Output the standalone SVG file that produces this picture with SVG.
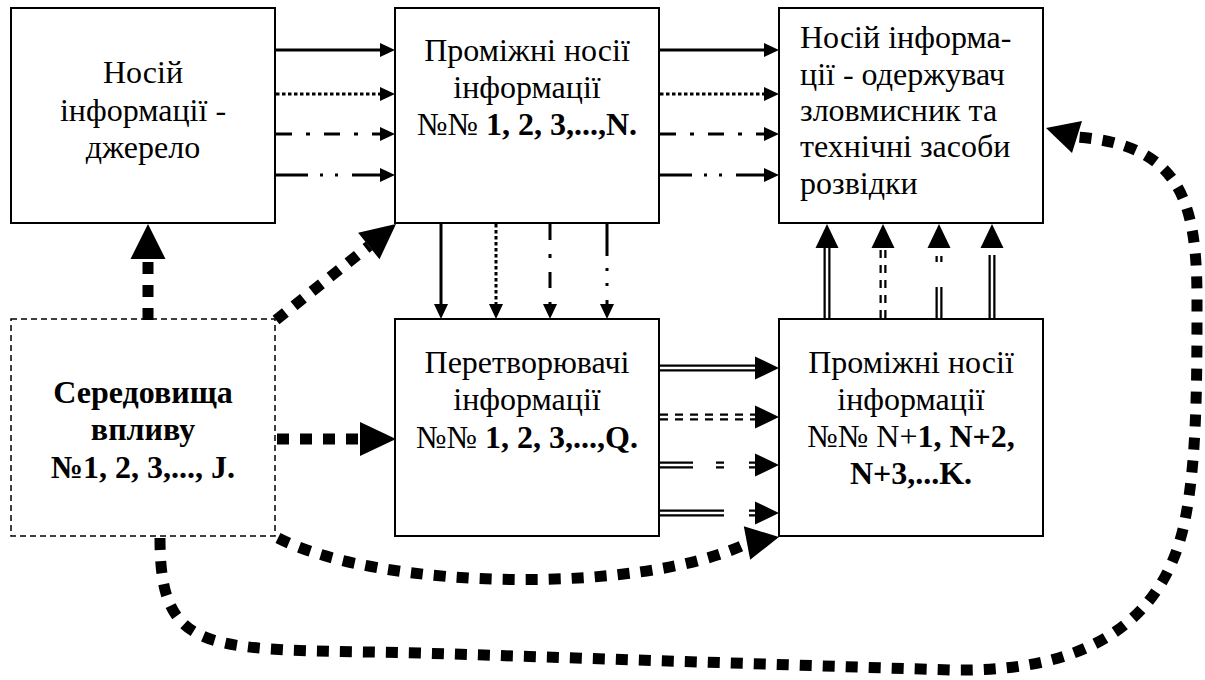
<svg xmlns="http://www.w3.org/2000/svg" width="1205" height="680" viewBox="0 0 1205 680">
<defs>
<style>
.box{fill:#fff;stroke:#000;stroke-width:2}
.dbox{fill:#fff;stroke:#000;stroke-width:1.5;stroke-dasharray:6 4}
.t{font-size:32px;fill:#000}
.c{text-anchor:middle}
.b{font-weight:bold}
.ln{fill:none;stroke:#000;stroke-width:3}
.dot{stroke-dasharray:3.5 2.5}
.dd{stroke-dasharray:16 14 4 14}
.ddd{stroke-dasharray:32 12 3 12 3 14}
.dbl{fill:none;stroke:#000;stroke-width:7}
.dblw{fill:none;stroke:#fff;stroke-width:2.5}
.thick{fill:none;stroke:#000;stroke-width:11;stroke-dasharray:12 11}
.head{fill:#000;stroke:none}
</style>
<marker id="a" markerUnits="userSpaceOnUse" markerWidth="15" markerHeight="14" refX="0" refY="7" orient="auto" viewBox="0 0 15 14" overflow="visible"><path d="M0,0 L15,7 L0,14z" fill="#000"/></marker>
<marker id="a2" markerUnits="userSpaceOnUse" markerWidth="24" markerHeight="23" refX="0" refY="11.5" orient="auto" viewBox="0 0 24 23" overflow="visible"><path d="M0,0 L24,11.5 L0,23z" fill="#000"/></marker>
</defs>

<g font-family="Liberation Serif, Times New Roman, serif" class="t">
<g id="node-source">
<rect class="box" x="11" y="8" width="264" height="215"/>
<text class="c" x="143" y="83">Носій</text>
<text class="c" x="143" y="121">інформації -</text>
<text class="c" x="143" y="158">джерело</text>
</g>

<g id="node-intermediate">
<rect class="box" x="395" y="8" width="264" height="215"/>
<text class="c" x="527" y="61">Проміжні носії</text>
<text class="c" x="527" y="98">інформації</text>
<text class="c" x="527" y="135">№№<tspan class="b"> 1, 2, 3,...,N.</tspan></text>
</g>

<g id="node-receiver">
<rect class="box" x="779" y="8" width="264" height="215"/>
<text x="800" y="48">Носій інформа-</text>
<text x="800" y="85">ції - одержувач</text>
<text x="800" y="121">зловмисник та</text>
<text x="800" y="157">технічні засоби</text>
<text x="800" y="194">розвідки</text>
</g>

<g id="node-environment">
<rect class="dbox" x="11" y="319" width="264" height="217"/>
<text class="c b" x="143" y="403">Середовища</text>
<text class="c b" x="143" y="440">впливу</text>
<text class="c b" x="143" y="478">№1, 2, 3,..., J.</text>
</g>

<g id="node-converters">
<rect class="box" x="395" y="319" width="264" height="217"/>
<text class="c" x="527" y="373">Перетворювачі</text>
<text class="c" x="527" y="410">інформації</text>
<text class="c" x="527" y="448">№№<tspan class="b"> 1, 2, 3,...,Q.</tspan></text>
</g>

<g id="node-intermediate2">
<rect class="box" x="779" y="319" width="264" height="217"/>
<text class="c" x="911" y="373">Проміжні носії</text>
<text class="c" x="911" y="410">інформації</text>
<text class="c" x="911" y="447">№№ N+<tspan class="b">1, N+2,</tspan></text>
<text class="c b" x="911" y="484">N+3,...K.</text>
</g>
</g>

<g id="connectors">
<path class="ln" d="M276,50 H380" marker-end="url(#a)"/>
<path class="ln dot" d="M276,94 H380" marker-end="url(#a)"/>
<path class="ln dd" d="M276,134 H380" marker-end="url(#a)"/>
<path class="ln ddd" d="M276,175 H380" marker-end="url(#a)"/>
<path class="ln" d="M660,50 H764" marker-end="url(#a)"/>
<path class="ln dot" d="M660,94 H764" marker-end="url(#a)"/>
<path class="ln dd" d="M660,134 H764" marker-end="url(#a)"/>
<path class="ln ddd" d="M660,175 H764" marker-end="url(#a)"/>
<path class="ln" d="M441,224 V304" marker-end="url(#a)"/>
<path class="ln dot" d="M496,224 V304" marker-end="url(#a)"/>
<path class="ln dd" d="M550,224 V304" marker-end="url(#a)"/>
<path class="ln ddd" d="M607,224 V304" marker-end="url(#a)"/>
<path class="dbl" d="M660,368 H755" marker-end="url(#a2)"/>
<path class="dblw" d="M660,368 H755"/>
<path class="dbl" d="M660,417 H755" stroke-dasharray="8 7" marker-end="url(#a2)"/>
<path class="dblw" d="M660,417 H755" stroke-dasharray="8 7"/>
<path class="dbl" d="M660,465 H755" stroke-dasharray="33 23 8 25 8 10" marker-end="url(#a2)"/>
<path class="dblw" d="M660,465 H755" stroke-dasharray="33 23 8 25 8 10"/>
<path class="dbl" d="M660,513 H755" stroke-dasharray="64 25 8 10" marker-end="url(#a2)"/>
<path class="dblw" d="M660,513 H755" stroke-dasharray="64 25 8 10"/>
<path class="dbl" d="M827,318 V248" marker-end="url(#a2)"/>
<path class="dblw" d="M827,318 V248"/>
<path class="dbl" d="M883,318 V248" stroke-dasharray="8 7" marker-end="url(#a2)"/>
<path class="dblw" d="M883,318 V248" stroke-dasharray="8 7"/>
<path class="dbl" d="M939,318 V248" stroke-dasharray="31 25 6 30" marker-end="url(#a2)"/>
<path class="dblw" d="M939,318 V248" stroke-dasharray="31 25 6 30"/>
<path class="dbl" d="M992,318 V248" stroke-dasharray="63 20" marker-end="url(#a2)"/>
<path class="dblw" d="M992,318 V248" stroke-dasharray="63 20"/>
<path class="thick" d="M148,320 V259"/>
<polygon class="head" points="148,224 165.5,259 130.5,259"/>
<path class="thick" d="M276,320 L369,246"/>
<polygon class="head" points="396,224 379.5,259.2 358.1,232.8"/>
<path class="thick" d="M277,439 H360"/>
<polygon class="head" points="396,439 360,422 360,456"/>
<path class="thick" d="M278,538 C380,590 640,595 748,543"/>
<polygon class="head" points="779,537 750.2,559.7 743.8,526.3"/>
<path class="thick" d="M160,538 C160,660 210,648 420,653 L950,670 C1090,673 1165,620 1185,520 C1197,460 1197,380 1197,300 C1197,200 1180,145 1077,137"/>
<polygon class="head" points="1046,128 1082,121 1072,153"/>
</g>
</svg>
